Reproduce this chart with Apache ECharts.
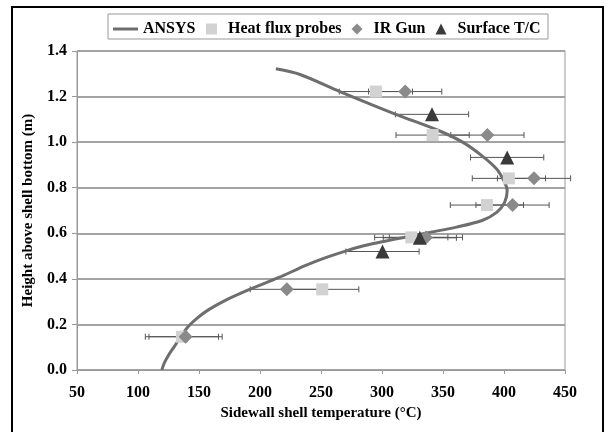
<!DOCTYPE html>
<html>
<head>
<meta charset="utf-8">
<script src="https://cdn.jsdelivr.net/npm/echarts@6/dist/echarts.min.js"></script>
<style>
html,body{margin:0;padding:0;background:#fff;}
#chart{width:610px;height:432px;}
</style>
</head>
<body>
<div id="chart"></div>
<script>
// ---- data ----
var seriesNames = ['ANSYS', 'Heat flux probes', 'IR Gun', 'Surface T/C'];
var xTicks = [50, 100, 150, 200, 250, 300, 350, 400, 450];
var yTicks = [0.0, 0.2, 0.4, 0.6, 0.8, 1.0, 1.2, 1.4];

// ANSYS curve (temperature °C, height m)
var ansysT = [119.5, 121.5, 125, 130, 135, 141, 149, 158, 174, 192, 215, 238, 255, 270, 285, 300, 319, 340, 361, 382, 394, 400.5, 402.6, 400.5, 394, 382, 366.4, 346.8, 311.4, 265.5, 232.8, 213];
var ansysH = [0, 0.03, 0.065, 0.105, 0.145, 0.19, 0.23, 0.265, 0.312, 0.355, 0.405, 0.46, 0.495, 0.522, 0.545, 0.563, 0.583, 0.605, 0.627, 0.656, 0.692, 0.736, 0.787, 0.824, 0.882, 0.94, 0.999, 1.05, 1.122, 1.222, 1.297, 1.322];

// Heat flux probes
var hfpT = [136, 251, 324, 386, 404, 341.5, 295];
var hfpH = [0.146, 0.354, 0.582, 0.724, 0.841, 1.031, 1.222];
var hfpErr = [30, 30, 30, 30, 30, 30, 30];

// IR Gun
var irT = [139, 222, 336, 407, 424.6, 386.4, 319];
var irH = [0.146, 0.354, 0.582, 0.724, 0.841, 1.031, 1.222];
var irErr = [30, 30, 30, 30, 30, 30, 30];

// Surface T/C
var tcT = [300.4, 331, 402.6, 341];
var tcH = [0.52, 0.58, 0.933, 1.122];
var tcErr = [30, 30, 30, 30];

// ---- build ----
function zip(a, b) { return a.map(function (v, i) { return [v, b[i]]; }); }
function zip3(a, b, c) { return a.map(function (v, i) { return [v, b[i], c[i]]; }); }

var FONT = 'Liberation Serif';

function errSeries(data) {
  return {
    type: 'custom',
    silent: true,
    z: 1,
    data: data,
    renderItem: function (params, api) {
      var x = api.value(0), y = api.value(1), e = api.value(2);
      var p1 = api.coord([x - e, y]);
      var p2 = api.coord([x + e, y]);
      var c = 3;
      var st = { stroke: '#555', lineWidth: 1 };
      return {
        type: 'group',
        children: [
          { type: 'line', shape: { x1: p1[0], y1: p1[1], x2: p2[0], y2: p2[1] }, style: st },
          { type: 'line', shape: { x1: p1[0], y1: p1[1] - c, x2: p1[0], y2: p1[1] + c }, style: st },
          { type: 'line', shape: { x1: p2[0], y1: p2[1] - c, x2: p2[0], y2: p2[1] + c }, style: st }
        ]
      };
    }
  };
}

var chart = echarts.init(document.getElementById('chart'), null, { renderer: 'canvas' });

var legendText = { fontFamily: FONT, fontWeight: 'bold', fontSize: 16, color: '#000' };

var option = {
  animation: false,
  backgroundColor: '#fff',
  graphic: [
    { type: 'rect', shape: { x: 12, y: 7, width: 591, height: 440 }, style: { fill: null, stroke: '#000', lineWidth: 2 }, z: 100 },
    { type: 'rect', shape: { x: 108, y: 14, width: 440, height: 25 }, style: { fill: '#fff', stroke: '#999', lineWidth: 1 }, z: 0 }
  ],
  grid: {
    left: 77, right: 45, top: 51, bottom: 62,
    show: true, borderColor: '#999', borderWidth: 1, backgroundColor: 'transparent'
  },
  legend: [
    {
      data: [{ name: seriesNames[0], icon: 'rect', itemStyle: { color: '#6e6e6e' } }],
      left: 113, top: 21,
      itemWidth: 25, itemHeight: 3, itemGap: 10,
      textStyle: legendText,
      padding: 0, selectedMode: false, z: 10
    },
    {
      data: [seriesNames[1], seriesNames[2], seriesNames[3]],
      left: 206, top: 21,
      itemWidth: 11, itemHeight: 11, itemGap: 10,
      textStyle: Object.assign({ padding: [0, 0, 0, 6] }, legendText),
      padding: 0, selectedMode: false, z: 10
    }
  ],
  xAxis: {
    type: 'value', min: 50, max: 450, interval: 50,
    name: 'Sidewall shell temperature (°C)', nameLocation: 'middle', nameGap: 36,
    nameTextStyle: { fontFamily: FONT, fontWeight: 'bold', fontSize: 15, color: '#000' },
    axisLine: { show: true, lineStyle: { color: '#999', width: 1 } },
    axisTick: { show: true, inside: false, length: 4, lineStyle: { color: '#999' } },
    axisLabel: { fontFamily: FONT, fontWeight: 'bold', fontSize: 16, color: '#000', margin: 15,
      formatter: function (v) { return xTicks.indexOf(v) >= 0 ? String(v) : ''; } },
    splitLine: { show: false }
  },
  yAxis: {
    type: 'value', min: 0, max: 1.4, interval: 0.2,
    name: 'Height above shell bottom (m)', nameLocation: 'middle', nameGap: 40,
    nameTextStyle: { fontFamily: FONT, fontWeight: 'bold', fontSize: 15, color: '#000' },
    axisLine: { show: true, lineStyle: { color: '#999', width: 1 } },
    axisTick: { show: true, inside: false, length: 5, lineStyle: { color: '#999' } },
    axisLabel: { fontFamily: FONT, fontWeight: 'bold', fontSize: 16, color: '#000', margin: 10,
      formatter: function (v) { return v.toFixed(1); } },
    splitLine: { show: true, lineStyle: { color: '#a3a3a3', width: 2 } }
  },
  series: [
    {
      name: seriesNames[0], type: 'line', data: zip(ansysT, ansysH),
      smooth: 0.3, showSymbol: false, symbol: 'none', z: 2,
      lineStyle: { color: '#6e6e6e', width: 3 }, itemStyle: { color: '#6e6e6e' }
    },
    errSeries(zip3(hfpT, hfpH, hfpErr)),
    errSeries(zip3(irT, irH, irErr)),
    errSeries(zip3(tcT, tcH, tcErr)),
    {
      name: seriesNames[1], type: 'scatter', data: zip(hfpT, hfpH), z: 3,
      symbol: 'rect', symbolSize: 12, itemStyle: { color: '#d2d2d2', opacity: 1 }
    },
    {
      name: seriesNames[2], type: 'scatter', data: zip(irT, irH), z: 4,
      symbol: 'diamond', symbolSize: 14, itemStyle: { color: '#8a8a8a', opacity: 1 }
    },
    {
      name: seriesNames[3], type: 'scatter', data: zip(tcT, tcH), z: 5,
      symbol: 'triangle', symbolSize: 14, itemStyle: { color: '#3a3a3a', opacity: 1 }
    }
  ]
};
chart.setOption(option);
</script>
</body>
</html>
